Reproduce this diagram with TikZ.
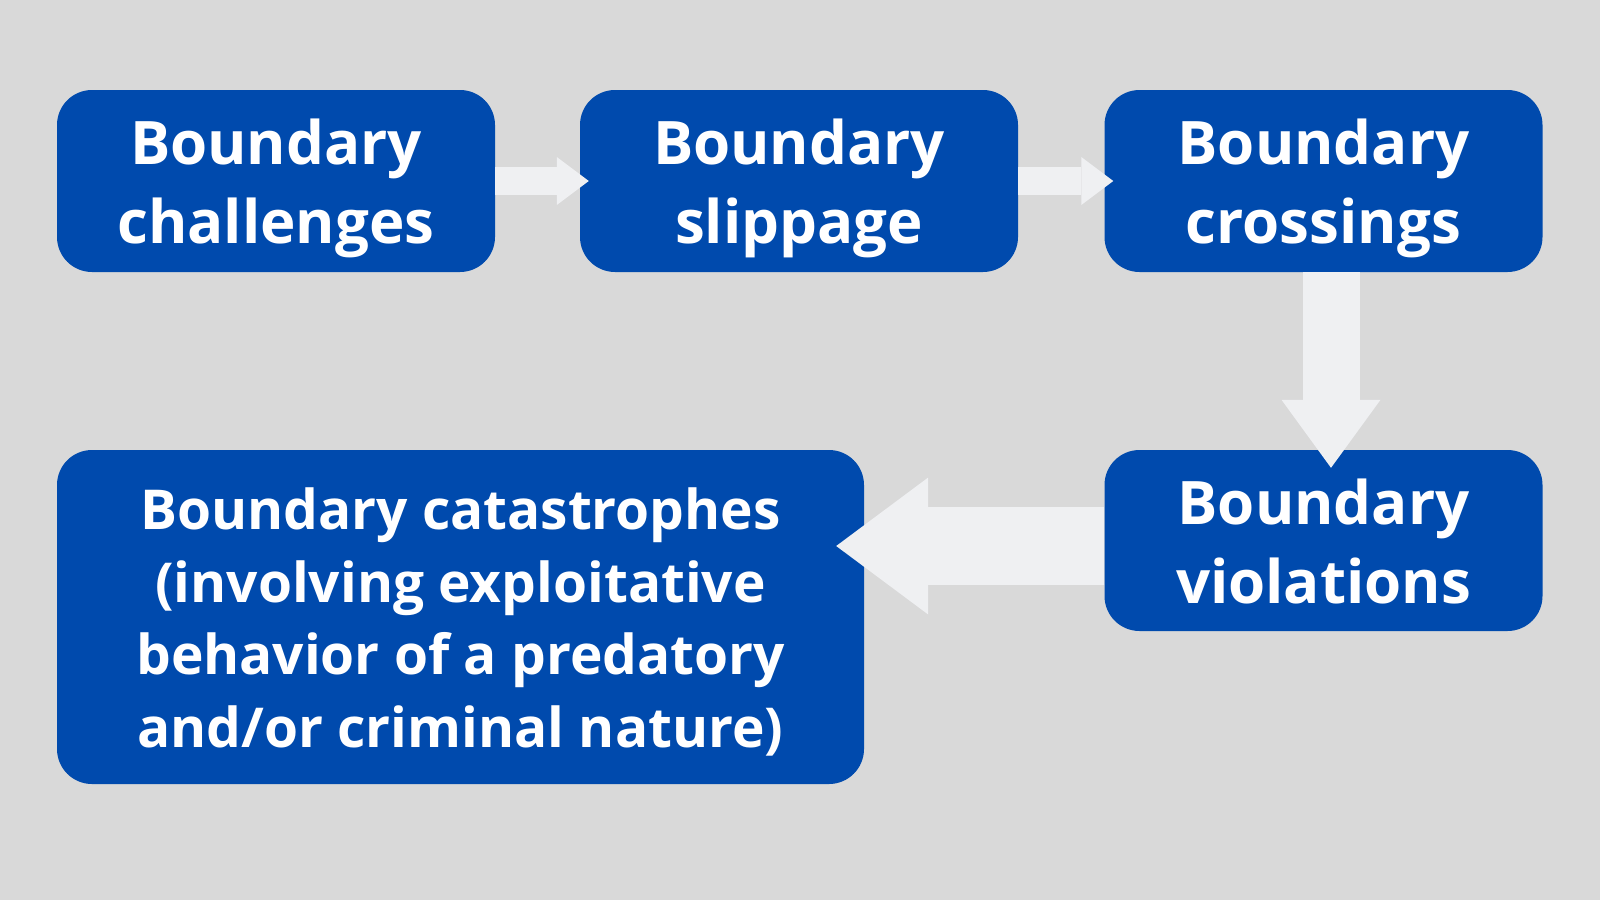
\documentclass[tikz,border=0pt]{standalone}
\usepackage{fontspec}
\setmainfont{Open Sans}
\usetikzlibrary{arrows.meta,calc}
\definecolor{bg}{HTML}{D9D9D9}
\definecolor{boxblue}{HTML}{004AAD}
\definecolor{arrowgray}{HTML}{EFF0F2}
\newcommand{\padlines}[2]{\raisebox{0pt}[\dimexpr\height+#1\relax][\depth]{\begin{tabular}{@{}c@{}}#2\end{tabular}}}
\begin{document}
\begin{tikzpicture}[x=1pt,y=-1pt,
  stage/.style={rectangle, rounded corners=35pt, fill=boxblue, text=white,
    font=\bfseries\fontsize{60}{79}\selectfont, inner sep=0pt,
    minimum width=438pt, minimum height=182pt},
  flowarrow/.style={draw=arrowgray, line cap=butt}]
\fill[bg] (0,0) rectangle (1600,900);
\useasboundingbox (0,0) rectangle (1600,900);
\node[stage] (b1) at (276,181) {\padlines{15pt}{Boundary\\challenges}};
\node[stage] (b2) at (799,181) {\padlines{15pt}{Boundary\\slippage}};
\node[stage] (b3) at (1323.5,181) {\padlines{15pt}{Boundary\\crossings}};
\node[stage, minimum height=181pt] (b4) at (1323.5,540.5) {\padlines{16pt}{Boundary\\violations}};
\node[stage, minimum width=807pt, minimum height=334pt,
  font=\bfseries\fontsize{55}{72.5}\selectfont] (b5) at (460.5,617)
  {\padlines{14pt}{Boundary catastrophes\\(involving exploitative\\behavior of a predatory\\and/or criminal nature)}};
\draw[flowarrow, line width=28pt, -{Triangle[width=48pt,length=32pt,line width=0pt]}, shorten >=-9pt]
  (b1.east) -- (b2.west);
\draw[flowarrow, line width=28pt, -{Triangle[width=48pt,length=32pt,line width=0pt]}, shorten >=-9pt]
  (b2.east) -- (b3.west);
\draw[flowarrow, line width=57pt, -{Triangle[width=99pt,length=68pt,line width=0pt]}, shorten >=-18pt]
  ($(b3.south)+(7.5,0)$) -- ($(b4.north)+(7.5,0)$);
\draw[flowarrow, line width=78pt, -{Triangle[width=137pt,length=92pt,line width=0pt]}, shorten >=-28pt]
  ($(b4.west)+(0,5.5)$) -- ($(b4.west -| b5.east)+(0,5.5)$);
\end{tikzpicture}
\end{document}
